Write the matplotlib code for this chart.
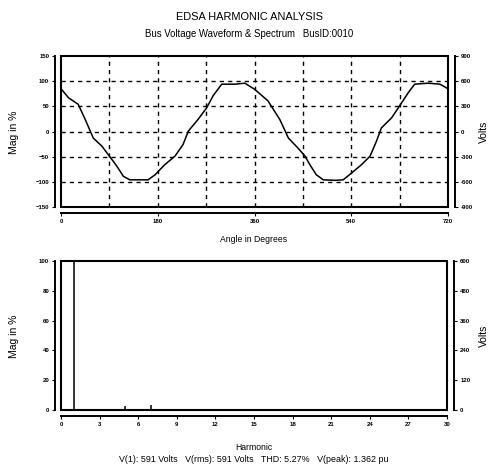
import matplotlib
matplotlib.use("Agg")
import matplotlib.pyplot as plt
from matplotlib.patches import Rectangle

# ---- data ----
wave_deg = [0, 14, 32, 45, 60, 76, 88, 104, 116, 128, 144, 162, 175, 193, 212, 227, 237, 255,
            271, 283, 299, 324, 342, 360, 385, 407, 417, 423, 441, 454, 463, 475, 488, 510,
            525, 540, 559, 575, 587, 596, 615, 630, 646, 658, 683, 705, 720]
wave_pct = [85, 67, 54, 24, -13, -29, -46, -69, -89, -96, -96, -96, -86, -66, -49, -26, 1, 24,
            47, 71, 94, 94, 96, 84, 61, 24, 1, -13, -33, -49, -66, -86, -96, -97,
            -96, -83, -66, -49, -19, 7, 27, 51, 77, 94, 96, 94, 85]
wave_xticks = [0, 180, 360, 540, 720]
wave_yticks = [-150, -100, -50, 0, 50, 100, 150]
wave_volt_labels = ["-900", "-600", "-300", "0", "300", "600", "900"]

harmonics = [1, 5, 7]
harm_pct = [100, 2.5, 3.2]
spec_xticks = [0, 3, 6, 9, 12, 15, 18, 21, 24, 27, 30]
spec_yticks = [0, 20, 40, 60, 80, 100]
spec_volt_labels = ["0", "120", "240", "360", "480", "600"]

title = "EDSA HARMONIC ANALYSIS"
subtitle = "Bus Voltage Waveform & Spectrum   BusID:0010"
footer = "V(1): 591 Volts   V(rms): 591 Volts   THD: 5.27%   V(peak): 1.362 pu"

FAM = ["Liberation Sans", "DejaVu Sans"]
plt.rcParams['font.family'] = FAM

W, H = 498, 470
fig = plt.figure(figsize=(W / 100, H / 100), dpi=100)
fig.patch.set_facecolor("white")


def frac(l, t, r, b):
    return [l / W, 1 - b / H, (r - l) / W, (b - t) / H]


def style(ax, yticks, volt_labels, xticks):
    for s in ["left", "bottom"]:
        ax.spines[s].set_position(("outward", 4))
        ax.spines[s].set_linewidth(1.4)
    ax.spines["top"].set_visible(False)
    ax.spines["right"].set_visible(False)
    ax.add_patch(Rectangle((0, 0), 1, 1, transform=ax.transAxes, fill=False,
                           lw=1.5, ec="black", zorder=5, clip_on=False))
    ax.set_yticks(yticks)
    ax.set_xticks(xticks)
    ax.tick_params(axis="both", labelsize=4.3, length=2.5, width=0.8, pad=2)
    for lab in ax.get_xticklabels() + ax.get_yticklabels():
        lab.set_fontweight("bold")
    ax2 = ax.twinx()
    ax2.set_ylim(ax.get_ylim())
    ax2.spines["right"].set_position(("outward", 5))
    ax2.spines["right"].set_linewidth(1.4)
    for s in ["left", "bottom", "top"]:
        ax2.spines[s].set_visible(False)
    ax2.set_yticks(yticks)
    ax2.set_yticklabels(volt_labels, fontsize=4.3, fontweight="bold")
    ax2.tick_params(axis="y", length=2.5, width=0.8, pad=2)
    return ax2


# ---- waveform ----
ax1 = fig.add_axes(frac(61, 56, 448, 207))
ax1.plot(wave_deg, wave_pct, color="black", lw=1.1, zorder=4)
ax1.set_xlim(0, 720)
ax1.set_ylim(-150, 150)
for x in range(90, 720, 90):
    ax1.axvline(x, color="black", lw=1.0, ls=(0, (3, 3)), zorder=2)
for y in [-100, -50, 0, 50, 100]:
    ax1.axhline(y, color="black", lw=1.0, ls=(0, (3, 3)), zorder=2)
style(ax1, wave_yticks, wave_volt_labels, wave_xticks)

# ---- spectrum ----
ax3 = fig.add_axes(frac(61, 261, 447, 410))
ax3.vlines(harmonics, 0, harm_pct, color="black", lw=1.1, zorder=4)
ax3.axhline(0, color="black", lw=1.0, zorder=4)
ax3.set_xlim(0, 30)
ax3.set_ylim(0, 100)
style(ax3, spec_yticks, spec_volt_labels, spec_xticks)

# ---- texts ----
fig.text(0.5, 1 - 17 / H, title, ha="center", va="center", fontsize=7.9)
fig.text(0.5, 1 - 34 / H, subtitle, ha="center", va="center", fontsize=6.9)
fig.text(254 / W, 1 - 240 / H, "Angle in Degrees", ha="center", va="center", fontsize=6.2)
fig.text(254 / W, 1 - 447 / H, "Harmonic", ha="center", va="center", fontsize=6.2)
fig.text(254 / W, 1 - 459 / H, footer, ha="center", va="center", fontsize=6.4)
for yc in [132, 336]:
    fig.text(14 / W, 1 - yc / H, "Mag in %", ha="center", va="center", rotation=90, fontsize=7.5)
    fig.text(484 / W, 1 - yc / H, "Volts", ha="center", va="center", rotation=90, fontsize=7.5)

fig.savefig("out.png", dpi=100)
